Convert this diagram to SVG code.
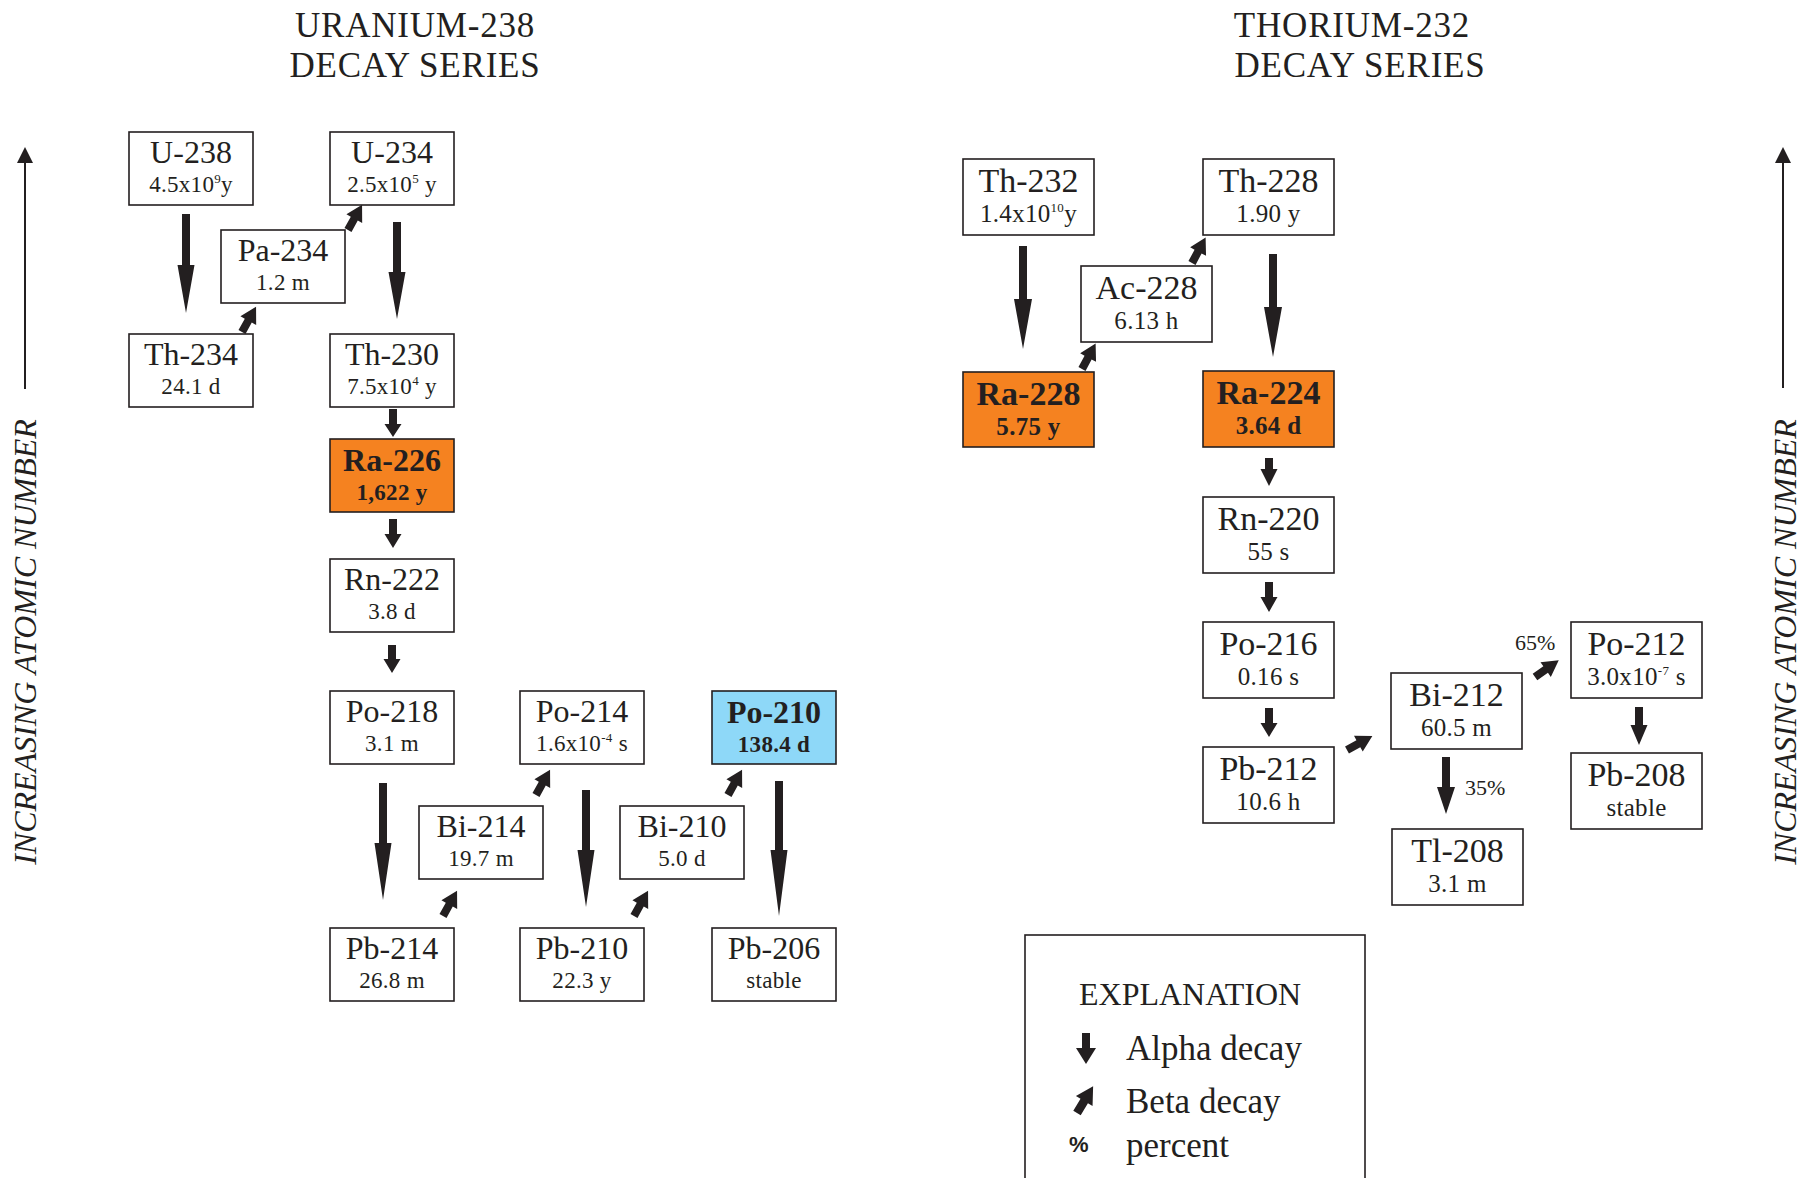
<svg xmlns="http://www.w3.org/2000/svg" width="1813" height="1178" viewBox="0 0 1813 1178">
<style>
text{font-family:"Liberation Serif","Times New Roman",serif;fill:#231f20}
.ttl{font-size:35px;letter-spacing:0.8px;text-anchor:middle}
.box{fill:#fff;stroke:#231f20;stroke-width:1.6}
.or{fill:#f58220}
.bl{fill:#8ed8f8}
.n{font-size:32px;text-anchor:middle}
.h{font-size:23px;text-anchor:middle;letter-spacing:0.3px}
.nR{font-size:34px;text-anchor:middle}
.hR{font-size:25px;text-anchor:middle;letter-spacing:0.3px}
.b{font-weight:bold}
.sup{font-size:13px}
.arr{fill:#231f20}
.pct{font-size:22px}
.side{font-size:32px;font-style:italic;text-anchor:middle}
.lg{font-size:35px}
</style>
<defs>
<path id="beta" d="M-4,0 L-4,-13 L-9,-13 L0,-29 L9,-13 L4,-13 L4,0 Z"/>
</defs>
<rect width="1813" height="1178" fill="#fff"/>

<g id="titles">
<text class="ttl" x="415" y="37">URANIUM-238</text>
<text class="ttl" x="415" y="77">DECAY SERIES</text>
<text class="ttl" x="1352" y="37">THORIUM-232</text>
<text class="ttl" x="1360" y="77">DECAY SERIES</text>
</g>

<g id="axis-left">
<line x1="25" y1="389" x2="25" y2="160" stroke="#231f20" stroke-width="2"/>
<polygon class="arr" points="17,163 33,163 25,147"/>
<text class="side" transform="translate(36,642) rotate(-90)">INCREASING ATOMIC NUMBER</text>
</g>
<g id="axis-right">
<line x1="1783" y1="388" x2="1783" y2="160" stroke="#231f20" stroke-width="2"/>
<polygon class="arr" points="1775,163 1791,163 1783,147"/>
<text class="side" transform="translate(1796,642) rotate(-90)">INCREASING ATOMIC NUMBER</text>
</g>

<!-- Uranium series nodes -->
<g id="U-238"><rect class="box" x="129" y="132" width="124" height="73"/>
<text class="n" x="191" y="163">U-238</text>
<text class="h" x="191" y="192">4.5x10<tspan class="sup" dy="-9">9</tspan><tspan dy="9">y</tspan></text></g>
<g id="U-234"><rect class="box" x="330" y="132" width="124" height="73"/>
<text class="n" x="392" y="163">U-234</text>
<text class="h" x="392" y="192">2.5x10<tspan class="sup" dy="-9">5</tspan><tspan dy="9"> y</tspan></text></g>
<g id="Pa-234"><rect class="box" x="221" y="230" width="124" height="73"/>
<text class="n" x="283" y="261">Pa-234</text>
<text class="h" x="283" y="290">1.2 m</text></g>
<g id="Th-234"><rect class="box" x="129" y="334" width="124" height="73"/>
<text class="n" x="191" y="365">Th-234</text>
<text class="h" x="191" y="394">24.1 d</text></g>
<g id="Th-230"><rect class="box" x="330" y="334" width="124" height="73"/>
<text class="n" x="392" y="365">Th-230</text>
<text class="h" x="392" y="394">7.5x10<tspan class="sup" dy="-9">4</tspan><tspan dy="9"> y</tspan></text></g>
<g id="Ra-226"><rect class="box or" x="330" y="439" width="124" height="73"/>
<text class="n b" x="392" y="471">Ra-226</text>
<text class="h b" x="392" y="500">1,622 y</text></g>
<g id="Rn-222"><rect class="box" x="330" y="559" width="124" height="73"/>
<text class="n" x="392" y="590">Rn-222</text>
<text class="h" x="392" y="619">3.8 d</text></g>
<g id="Po-218"><rect class="box" x="330" y="691" width="124" height="73"/>
<text class="n" x="392" y="722">Po-218</text>
<text class="h" x="392" y="751">3.1 m</text></g>
<g id="Po-214"><rect class="box" x="520" y="691" width="124" height="73"/>
<text class="n" x="582" y="722">Po-214</text>
<text class="h" x="582" y="751">1.6x10<tspan class="sup" dy="-9">-4</tspan><tspan dy="9"> s</tspan></text></g>
<g id="Po-210"><rect class="box bl" x="712" y="691" width="124" height="73"/>
<text class="n b" x="774" y="723">Po-210</text>
<text class="h b" x="774" y="752">138.4 d</text></g>
<g id="Bi-214"><rect class="box" x="419" y="806" width="124" height="73"/>
<text class="n" x="481" y="837">Bi-214</text>
<text class="h" x="481" y="866">19.7 m</text></g>
<g id="Bi-210"><rect class="box" x="620" y="806" width="124" height="73"/>
<text class="n" x="682" y="837">Bi-210</text>
<text class="h" x="682" y="866">5.0 d</text></g>
<g id="Pb-214"><rect class="box" x="330" y="928" width="124" height="73"/>
<text class="n" x="392" y="959">Pb-214</text>
<text class="h" x="392" y="988">26.8 m</text></g>
<g id="Pb-210"><rect class="box" x="520" y="928" width="124" height="73"/>
<text class="n" x="582" y="959">Pb-210</text>
<text class="h" x="582" y="988">22.3 y</text></g>
<g id="Pb-206"><rect class="box" x="712" y="928" width="124" height="73"/>
<text class="n" x="774" y="959">Pb-206</text>
<text class="h" x="774" y="988">stable</text></g>

<!-- Thorium series nodes -->
<g id="Th-232"><rect class="box" x="963" y="159" width="131" height="76"/>
<text class="nR" x="1028.5" y="192">Th-232</text>
<text class="hR" x="1028.5" y="222">1.4x10<tspan class="sup" dy="-10">10</tspan><tspan dy="10">y</tspan></text></g>
<g id="Th-228"><rect class="box" x="1203" y="159" width="131" height="76"/>
<text class="nR" x="1268.5" y="192">Th-228</text>
<text class="hR" x="1268.5" y="222">1.90 y</text></g>
<g id="Ac-228"><rect class="box" x="1081" y="266" width="131" height="76"/>
<text class="nR" x="1146.5" y="299">Ac-228</text>
<text class="hR" x="1146.5" y="329">6.13 h</text></g>
<g id="Ra-228"><rect class="box or" x="963" y="372" width="131" height="75"/>
<text class="nR b" x="1028.5" y="405">Ra-228</text>
<text class="hR b" x="1028.5" y="435">5.75 y</text></g>
<g id="Ra-224"><rect class="box or" x="1203" y="371" width="131" height="76"/>
<text class="nR b" x="1268.5" y="404">Ra-224</text>
<text class="hR b" x="1268.5" y="434">3.64 d</text></g>
<g id="Rn-220"><rect class="box" x="1203" y="497" width="131" height="76"/>
<text class="nR" x="1268.5" y="530">Rn-220</text>
<text class="hR" x="1268.5" y="560">55 s</text></g>
<g id="Po-216"><rect class="box" x="1203" y="622" width="131" height="76"/>
<text class="nR" x="1268.5" y="655">Po-216</text>
<text class="hR" x="1268.5" y="685">0.16 s</text></g>
<g id="Pb-212"><rect class="box" x="1203" y="747" width="131" height="76"/>
<text class="nR" x="1268.5" y="780">Pb-212</text>
<text class="hR" x="1268.5" y="810">10.6 h</text></g>
<g id="Bi-212"><rect class="box" x="1391" y="673" width="131" height="76"/>
<text class="nR" x="1456.5" y="706">Bi-212</text>
<text class="hR" x="1456.5" y="736">60.5 m</text></g>
<g id="Po-212"><rect class="box" x="1571" y="622" width="131" height="76"/>
<text class="nR" x="1636.5" y="655">Po-212</text>
<text class="hR" x="1636.5" y="685">3.0x10<tspan class="sup" dy="-10">-7</tspan><tspan dy="10"> s</tspan></text></g>
<g id="Pb-208"><rect class="box" x="1571" y="753" width="131" height="76"/>
<text class="nR" x="1636.5" y="786">Pb-208</text>
<text class="hR" x="1636.5" y="816">stable</text></g>
<g id="Tl-208"><rect class="box" x="1392" y="829" width="131" height="76"/>
<text class="nR" x="1457.5" y="862">Tl-208</text>
<text class="hR" x="1457.5" y="892">3.1 m</text></g>

<g id="connectors">
<path class="arr" d="M182,214 H190 V265 H194.5 L186,313 L177.5,265 H182 Z"/>
<path class="arr" d="M393,222 H401 V272 H405.5 L397,319 L388.5,272 H393 Z"/>
<path class="arr" d="M389,409 H397 V424 H401.5 L393,437 L384.5,424 H389 Z"/>
<path class="arr" d="M389,519 H397 V534 H401.5 L393,548 L384.5,534 H389 Z"/>
<path class="arr" d="M388,645 H396 V659 H400.5 L392,673 L383.5,659 H388 Z"/>
<path class="arr" d="M379,783 H387 V843 H391.5 L383,900 L374.5,843 H379 Z"/>
<path class="arr" d="M582,790 H590 V850 H594.5 L586,907 L577.5,850 H582 Z"/>
<path class="arr" d="M775,781 H783 V850 H787.5 L779,916 L770.5,850 H775 Z"/>
<use class="arr" href="#beta" transform="translate(242,332) rotate(29)"/>
<use class="arr" href="#beta" transform="translate(348,230) rotate(29)"/>
<use class="arr" href="#beta" transform="translate(443,916) rotate(29)"/>
<use class="arr" href="#beta" transform="translate(536,795) rotate(29)"/>
<use class="arr" href="#beta" transform="translate(634,916) rotate(29)"/>
<use class="arr" href="#beta" transform="translate(728,795) rotate(29)"/>

<path class="arr" d="M1019,246 H1027 V299 H1032 L1023,349 L1014,299 H1019 Z"/>
<path class="arr" d="M1269,254 H1277 V307 H1282 L1273,357 L1264,307 H1269 Z"/>
<path class="arr" d="M1265,458 H1273 V469 H1277.5 L1269,486 L1260.5,469 H1265 Z"/>
<path class="arr" d="M1265,582 H1273 V597 H1277.5 L1269,612 L1260.5,597 H1265 Z"/>
<path class="arr" d="M1265,708 H1273 V723 H1277.5 L1269,737 L1260.5,723 H1265 Z"/>
<path class="arr" d="M1442,757 H1450 V787 H1455 L1446,814 L1437,787 H1442 Z"/>
<path class="arr" d="M1635,707 H1643 V725 H1647.5 L1639,745 L1630.5,725 H1635 Z"/>
<use class="arr" href="#beta" transform="translate(1082,369) rotate(28)"/>
<use class="arr" href="#beta" transform="translate(1192,263) rotate(28)"/>
<use class="arr" href="#beta" transform="translate(1347,750) rotate(61)"/>
<use class="arr" href="#beta" transform="translate(1535,677) rotate(55)"/>
<text class="pct" x="1515" y="650">65%</text>
<text class="pct" x="1465" y="795">35%</text>
</g>

<g id="legend">
<rect class="box" x="1025" y="935" width="340" height="260"/>
<text x="1079" y="1005" style="font-size:32px">EXPLANATION</text>
<path class="arr" d="M1082,1033 H1090 V1048 H1096 L1086,1064 L1076,1048 H1082 Z"/>
<text class="lg" x="1126" y="1060">Alpha decay</text>
<use class="arr" href="#beta" transform="translate(1077,1113) rotate(31) scale(1.08)"/>
<text class="lg" x="1126" y="1113">Beta decay</text>
<text x="1069" y="1152" style="font-family:'Liberation Sans',Arial,sans-serif;font-weight:bold;font-size:22px">%</text>
<text class="lg" x="1126" y="1157">percent</text>
</g>
</svg>
